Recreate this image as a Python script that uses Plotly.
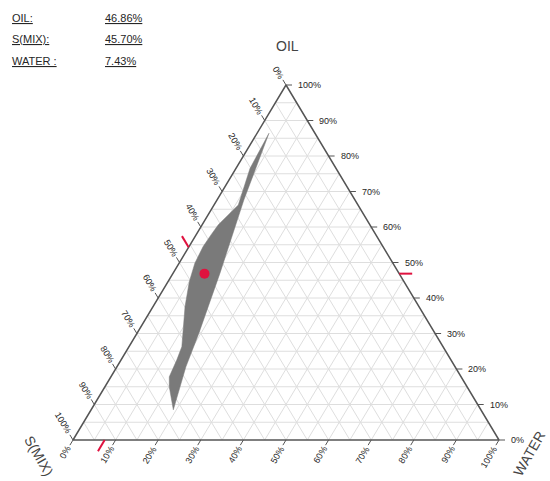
import plotly.graph_objects as go

# Selected formulation (% of each component)
point_oil = 46.86
point_smix = 45.70
point_water = 7.43

# Boundary of the shaded region, traced down the left side then back up the right side
region_oil = [86.4, 76.5, 66.2, 63.9, 60.6, 57.7, 54.5, 49.8, 44.6, 37.6, 31.9,
              26.3, 22.5, 17.8, 15.0, 8.5, 20.6, 30.1, 47.0, 67.6]
region_water = [2.8, 3.3, 5.7, 4.9, 3.8, 3.5, 3.3, 3.7, 5.0, 7.5, 9.9,
                12.4, 13.1, 13.7, 15.1, 19.3, 16.2, 14.5, 11.0, 6.3]
region_smix = [100 - o - w for o, w in zip(region_oil, region_water)]

grid_levels = list(range(5, 100, 5))
tick_levels = list(range(0, 101, 10))
tick_labels = [f"{v}%" for v in tick_levels]

FONT = "Liberation Sans, Arial, sans-serif"
TRI_W, TRI_H = 426.0, 355.0          # triangle size in px
X0_PX, Y0_PX = 73.0, 440.0           # bottom-left corner in px
FIG_W, FIG_H = 550, 481

EDGE = "#555555"
GRID = "#dedede"
RED = "#e0123f"
TXT = "#262626"


def to_xy(oil, smix, water):
    """Barycentric (OIL top, S(MIX) bottom-left, WATER bottom-right) -> plane."""
    tot = oil + smix + water
    a, c = oil / tot, water / tot
    return c + 0.5 * a, a


def px_vec(dx, dy):
    """Screen-pixel offset (y down) -> data offset."""
    return dx / TRI_W, -dy / TRI_H


# directions (screen px, y down) along which ticks leave each edge
DIR_OIL = (1.0, 0.0)
DIR_SMIX = (-0.516, -0.856)
DIR_WATER = (-0.513, 0.858)

fig = go.Figure()

# ---- grid -------------------------------------------------------------
gx, gy = [], []
for v in grid_levels:
    for p, q in (((v, 100 - v, 0), (v, 0, 100 - v)),      # constant OIL
                 ((100 - v, v, 0), (0, v, 100 - v)),      # constant S(MIX)
                 ((100 - v, 0, v), (0, 100 - v, v))):     # constant WATER
        x1, y1 = to_xy(*p)
        x2, y2 = to_xy(*q)
        gx += [x1, x2, None]
        gy += [y1, y2, None]
fig.add_trace(go.Scatter(x=gx, y=gy, mode="lines",
                         line=dict(color=GRID, width=1), hoverinfo="skip"))

# ---- shaded region ----------------------------------------------------
rx, ry = [], []
for o, s, w in zip(region_oil, region_smix, region_water):
    x, y = to_xy(o, s, w)
    rx.append(x)
    ry.append(y)
fig.add_trace(go.Scatter(x=rx + rx[:1], y=ry + ry[:1], mode="lines",
                         fill="toself", fillcolor="#7a7a7a",
                         line=dict(color="#7a7a7a", width=0.5),
                         hoverinfo="skip"))

# ---- triangle outline -------------------------------------------------
corners = [to_xy(100, 0, 0), to_xy(0, 100, 0), to_xy(0, 0, 100), to_xy(100, 0, 0)]
fig.add_trace(go.Scatter(x=[c[0] for c in corners], y=[c[1] for c in corners],
                         mode="lines", line=dict(color=EDGE, width=1.5),
                         hoverinfo="skip"))

# ---- ticks and tick labels ---------------------------------------------
tx, ty = [], []
annotations = []
TICK_LEN = 6
tick_font = dict(family=FONT, size=9, color=TXT)


def label_width(s):
    return sum(8.0 if ch == "%" else 5.0 for ch in s)


for v, lab in zip(tick_levels, tick_labels):
    # OIL along the right edge
    ex, ey = to_xy(v, 0, 100 - v)
    dx, dy = px_vec(DIR_OIL[0] * TICK_LEN, DIR_OIL[1] * TICK_LEN)
    tx += [ex, ex + dx, None]
    ty += [ey, ey + dy, None]
    annotations.append(dict(x=ex, y=ey, xref="x", yref="y", text=lab,
                            showarrow=False, xanchor="left", yanchor="middle",
                            xshift=10, font=tick_font))

    # S(MIX) along the left edge
    ex, ey = to_xy(100 - v, v, 0)
    dx, dy = px_vec(DIR_SMIX[0] * TICK_LEN, DIR_SMIX[1] * TICK_LEN)
    tx += [ex, ex + dx, None]
    ty += [ey, ey + dy, None]
    d = 8 + label_width(lab) / 2
    annotations.append(dict(x=ex, y=ey, xref="x", yref="y", text=lab,
                            showarrow=False, xanchor="center", yanchor="middle",
                            xshift=DIR_SMIX[0] * d, yshift=-DIR_SMIX[1] * d,
                            textangle=59, font=tick_font))

    # WATER along the bottom edge
    ex, ey = to_xy(0, 100 - v, v)
    dx, dy = px_vec(DIR_WATER[0] * TICK_LEN, DIR_WATER[1] * TICK_LEN)
    tx += [ex, ex + dx, None]
    ty += [ey, ey + dy, None]
    annotations.append(dict(x=ex, y=ey, xref="x", yref="y", text=lab,
                            showarrow=False, xanchor="center", yanchor="middle",
                            xshift=DIR_WATER[0] * d, yshift=-DIR_WATER[1] * d,
                            textangle=-59, font=tick_font))

fig.add_trace(go.Scatter(x=tx, y=ty, mode="lines",
                         line=dict(color=EDGE, width=1), hoverinfo="skip"))

# ---- markers for the selected formulation -------------------------------
MARK_LEN = 13
mx, my = [], []
for (o, s, w), dvec in (((point_oil, 0, 100 - point_oil), DIR_OIL),
                        ((100 - point_smix, point_smix, 0), DIR_SMIX),
                        ((0, 100 - point_water, point_water), DIR_WATER)):
    ex, ey = to_xy(o, s, w)
    dx, dy = px_vec(dvec[0] * MARK_LEN, dvec[1] * MARK_LEN)
    mx += [ex, ex + dx, None]
    my += [ey, ey + dy, None]
fig.add_trace(go.Scatter(x=mx, y=my, mode="lines",
                         line=dict(color=RED, width=2), hoverinfo="skip"))

px_, py_ = to_xy(point_oil, point_smix, point_water)
fig.add_trace(go.Scatter(x=[px_], y=[py_], mode="markers",
                         marker=dict(color=RED, size=10, line=dict(width=0)),
                         hoverinfo="skip"))

# ---- axis titles --------------------------------------------------------
title_font = dict(family=FONT, size=14, color="#444444")
annotations.append(dict(x=287 / FIG_W, y=1 - 46 / FIG_H, xref="paper", yref="paper",
                        text="OIL", showarrow=False, xanchor="center",
                        yanchor="middle", font=title_font))
annotations.append(dict(x=39 / FIG_W, y=1 - 456 / FIG_H, xref="paper", yref="paper",
                        text="S(MIX)", showarrow=False, xanchor="center",
                        yanchor="middle", textangle=60, font=title_font))
annotations.append(dict(x=529 / FIG_W, y=1 - 454 / FIG_H, xref="paper", yref="paper",
                        text="WATER", showarrow=False, xanchor="center",
                        yanchor="middle", textangle=-60, font=title_font))

# ---- composition readout ------------------------------------------------
readout = [("OIL:", point_oil, 18), ("S(MIX):", point_smix, 39),
           ("WATER :", point_water, 61)]
for name, val, ypx in readout:
    for xpx, txt in ((10, name), (103, f"{val:.2f}%")):
        annotations.append(dict(x=xpx / FIG_W, y=1 - ypx / FIG_H,
                                xref="paper", yref="paper",
                                text=f"<u>{txt}</u>", showarrow=False,
                                xanchor="left", yanchor="middle",
                                font=dict(family=FONT, size=11, color=TXT)))

fig.update_layout(
    width=FIG_W, height=FIG_H, autosize=False,
    margin=dict(l=0, r=0, t=0, b=0),
    paper_bgcolor="white", plot_bgcolor="white",
    showlegend=False, hovermode=False,
    xaxis=dict(visible=False, range=[-X0_PX / TRI_W, (FIG_W - X0_PX) / TRI_W],
               fixedrange=True),
    yaxis=dict(visible=False, range=[-(FIG_H - Y0_PX) / TRI_H, Y0_PX / TRI_H],
               fixedrange=True),
    annotations=annotations,
)

fig.write_html("out.html")
